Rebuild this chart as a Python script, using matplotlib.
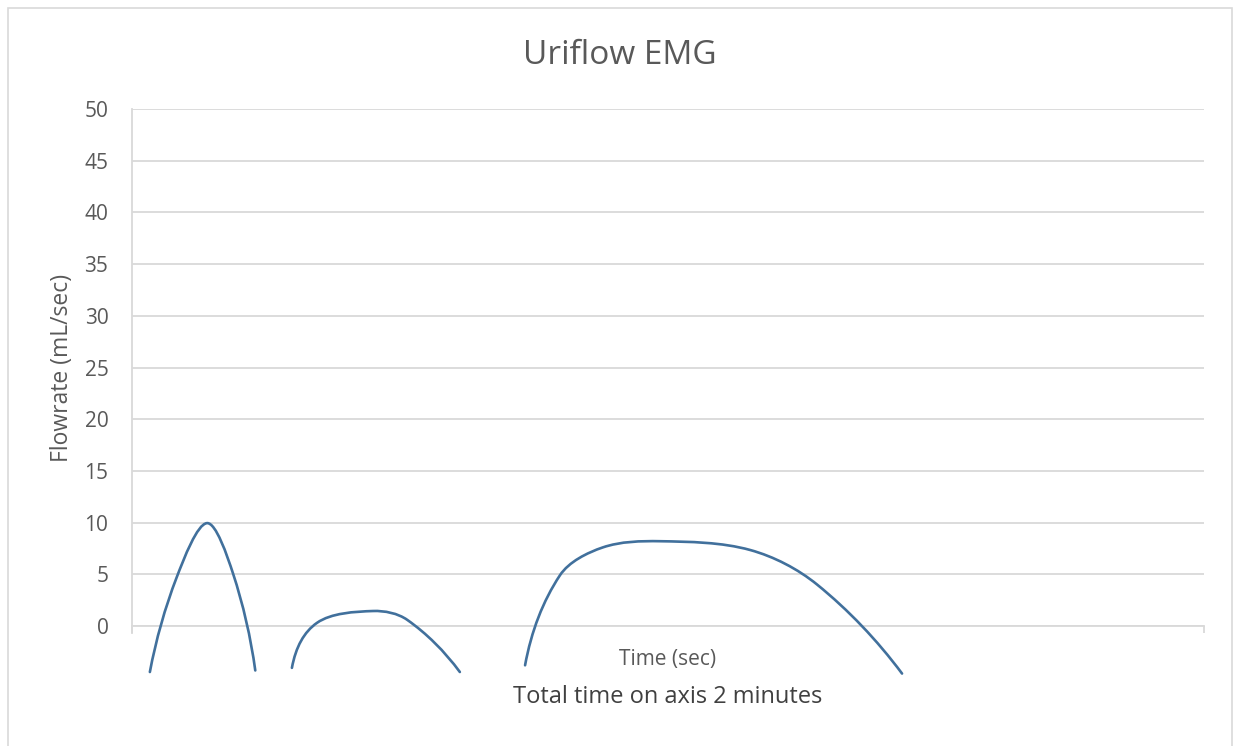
import matplotlib.pyplot as plt
import matplotlib.patches as patches
from matplotlib.path import Path
import numpy as np

plt.rcParams['font.family'] = ['Open Sans', 'DejaVu Sans']

# values (time in sec, flowrate in mL/sec)
t1 = [2.0, 5.0, 8.4, 11.3, 13.8]
f1 = [-4.45, 4.7, 9.95, 5.1, -4.3]
t2 = [17.9, 20.7, 27.0, 30.8, 36.7]
f2 = [-4.05, 0.3, 1.45, 0.6, -4.45]
t3 = [44.0, 47.9, 52.7, 59.1, 69.2, 76.7, 86.2]
f3 = [-3.8, 4.9, 7.6, 8.2, 7.35, 4.0, -4.6]

y_ticks = [0, 5, 10, 15, 20, 25, 30, 35, 40, 45, 50]
x_span = [0, 120]

title = 'Uriflow EMG'
y_label = 'Flowrate (mL/sec)'
x_label = 'Time (sec)'
note = 'Total time on axis 2 minutes'

LINE = '#41709c'
GRID = '#d9d9d9'
TEXT = '#595959'

# rough pixel size of one data unit, only used to shape the smoothing
SX, SY = 8.93, 10.34


def smooth_path(xs, ys):
    # smoothed line like the spreadsheet one: Bezier segments through the points
    pts = np.column_stack([xs, ys])
    n = len(pts)
    scale = np.array([SX, SY])
    d = np.linalg.norm(np.diff(pts, axis=0) * scale, axis=1)
    tang = np.zeros_like(pts)
    for i in range(1, n - 1):
        tang[i] = (pts[i + 1] - pts[i - 1]) / (d[i - 1] + d[i])
    # ends: keep the bend going instead of a straight first/last piece
    tang[0] = 2 * (pts[1] - pts[0]) / d[0] - tang[1]
    tang[-1] = 2 * (pts[-1] - pts[-2]) / d[-1] - tang[-2]
    verts = [pts[0]]
    codes = [Path.MOVETO]
    for i in range(n - 1):
        c1 = pts[i] + tang[i] * d[i] / 3.0
        c2 = pts[i + 1] - tang[i + 1] * d[i] / 3.0
        verts += [c1, c2, pts[i + 1]]
        codes += [Path.CURVE4] * 3
    return Path(verts, codes)


fig = plt.figure(figsize=(12.36, 7.46), dpi=100)
ax = fig.add_axes([132 / 1236, 1 - 626 / 746, (1204 - 132) / 1236, (626 - 109) / 746])

# chart border
fig.patches.append(patches.Rectangle((8 / 1236, -0.01), 1224 / 1236, 1 - 8 / 746 + 0.01,
                                     transform=fig.transFigure, fill=False,
                                     edgecolor='#d9d9d9', linewidth=1.2))

for xs, ys in [(t1, f1), (t2, f2), (t3, f3)]:
    ax.add_patch(patches.PathPatch(smooth_path(xs, ys), facecolor='none',
                                   edgecolor=LINE, linewidth=1.9,
                                   capstyle='round', clip_on=False, zorder=3))

ax.set_xlim(x_span)
ax.set_ylim(0, 50)
ax.set_yticks(y_ticks)
ax.set_xticks(x_span)
ax.set_xticklabels([])
ax.yaxis.grid(True, color=GRID, linewidth=1.3)
ax.set_axisbelow(True)

for side in ['top', 'right']:
    ax.spines[side].set_visible(False)
ax.spines['left'].set_color(GRID)
ax.spines['bottom'].set_color(GRID)
ax.spines['left'].set_linewidth(1.3)
ax.spines['bottom'].set_linewidth(1.3)
ax.tick_params(axis='y', length=0, labelsize=15, labelcolor=TEXT, pad=17)
ax.tick_params(axis='x', length=5, width=1.3, color=GRID)
ax.spines['left'].set_bounds(-0.7, 50)

fig.text(620 / 1236, 1 - 55 / 746, title, ha='center', va='center', fontsize=24, color=TEXT)
fig.text(62 / 1236, 1 - 368 / 746, y_label, ha='center', va='center', rotation=90,
         fontsize=16.5, color=TEXT)
fig.text(668 / 1236, 1 - 659 / 746, x_label, ha='center', va='center', fontsize=15, color=TEXT)
fig.text(668 / 1236, 1 - 697 / 746, note, ha='center', va='center', fontsize=17, color='#404040')

fig.savefig('out.png', dpi=100)
